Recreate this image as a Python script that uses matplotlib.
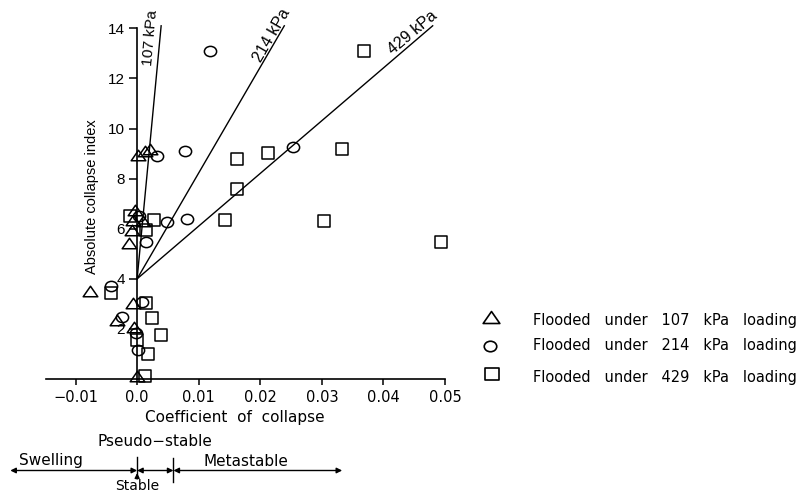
import matplotlib
matplotlib.use("Agg")
import matplotlib.pyplot as plt
from matplotlib.path import Path
from matplotlib.transforms import Affine2D, blended_transform_factory
from matplotlib.lines import Line2D

# Coefficient of collapse (x) and absolute collapse index (y) per flooding load
tri_x = [0.0002, 0.0013, 0.0021, -0.0004, -0.0007, 0.0010, -0.0009, -0.0013,
         -0.0076, -0.0006, -0.0033, -0.0005, 0.0000]
tri_y = [8.95, 9.10, 9.20, 6.75, 6.35, 6.30, 5.95, 5.42,
         3.50, 3.05, 2.35, 2.08, 0.12]

circ_x = [0.0119, 0.0078, 0.0253, 0.0032, 0.0081, 0.0048, 0.0015, 0.0003,
          -0.0042, 0.0008, -0.0025, -0.0002, 0.0002]
circ_y = [13.10, 9.12, 9.27, 8.92, 6.40, 6.27, 5.47, 6.50,
          3.70, 3.09, 2.47, 1.85, 1.16]

sq_x = [0.0368, 0.0332, 0.0213, 0.0163, 0.0163, 0.0143, 0.0304, 0.0494,
        0.0028, -0.0011, 0.0014, -0.0042, 0.0014, 0.0024, 0.0039, 0.0000,
        0.0017, 0.0013]
sq_y = [13.10, 9.20, 9.03, 8.80, 7.60, 6.33, 6.29, 5.45,
        6.35, 6.50, 5.95, 3.45, 3.02, 2.45, 1.76, 1.56,
        1.00, 0.12]

# Trend lines from the common origin (0, 4) for each load
loads = ["107 kPa", "214 kPa", "429 kPa"]
fit_origin = (0.0, 4.0)
fit_x_end = [0.0039, 0.0239, 0.0480]
fit_y_end = 14.1

legend_labels = ["Flooded   under   107   kPa   loading",
                 "Flooded   under   214   kPa   loading",
                 "Flooded   under   429   kPa   loading"]

x_ticks = [-0.01, 0.0, 0.01, 0.02, 0.03, 0.04, 0.05]
x_tick_labels = ["\u22120.01", "0.0", "0.01", "0.02", "0.03", "0.04", "0.05"]
y_ticks = [2, 4, 6, 8, 10, 12, 14]

# Stability zones along the coefficient-of-collapse scale
zone_edges = [-0.0206, 0.0, 0.0059, 0.0333]
zone_names = ["Swelling", "Pseudo\u2212stable", "Metastable"]

SANS = ["Liberation Sans", "DejaVu Sans"]
TICKF = ["DejaVu Sans"]

fig = plt.figure(figsize=(8, 4.93), dpi=100)
ax = fig.add_axes([0.0575, 0.2312, 0.49875, 0.7114])
ax.set_xlim(-0.0148, 0.05)
ax.set_ylim(0, 14)

for s in ("top", "right"):
    ax.spines[s].set_visible(False)
ax.spines["left"].set_position(("data", 0))
ax.spines["left"].set_linewidth(1.2)
ax.spines["bottom"].set_linewidth(1.2)
ax.spines["bottom"].set_bounds(-0.0148, 0.05)

ax.set_xticks(x_ticks)
ax.set_xticklabels(x_tick_labels, family=TICKF, fontsize=10.5)
ax.set_yticks(y_ticks)
ax.set_yticklabels([str(v) for v in y_ticks], family=SANS, fontsize=11)
ax.tick_params(axis="x", direction="out", length=4, width=1.1, pad=4)
ax.tick_params(axis="y", direction="out", length=6, width=1.1, pad=3)

ax.set_xlabel("Coefficient  of  collapse", family=TICKF, fontsize=11)
ax.xaxis.set_label_coords(0.474, -0.087)
ax.set_ylabel("Absolute collapse index", family=SANS, fontsize=10.5)
ax.yaxis.set_label_coords(0.132, 0.52)

# Trend lines and their labels
label_pos = [(0.0021, 13.62, 85), (0.0218, 13.72, 60), (0.0447, 13.82, 40)]
label_size = [11, 11.5, 11.5]
for xe, lab, (lx, ly, rot), fs in zip(fit_x_end, loads, label_pos, label_size):
    ax.plot([fit_origin[0], xe], [fit_origin[1], fit_y_end], color="black",
            lw=1.0, clip_on=False, zorder=2)
    ax.text(lx, ly, lab, rotation=rot, rotation_mode="anchor",
            ha="center", va="center", family=SANS, fontsize=fs)

# Custom marker shapes (flattened triangle and ellipse)
tri_marker = Path([(-1, -0.72), (1, -0.72), (0, 0.72), (-1, -0.72)],
                  [Path.MOVETO, Path.LINETO, Path.LINETO, Path.CLOSEPOLY])
ell_marker = Affine2D().scale(1.0, 0.84).transform_path(Path.unit_circle())
sq_marker = Path([(-1, -0.88), (1, -0.88), (1, 0.88), (-1, 0.88), (-1, -0.88)],
                 [Path.MOVETO, Path.LINETO, Path.LINETO, Path.LINETO, Path.CLOSEPOLY])

styles = [
    (tri_x, tri_y, tri_marker, 10.5),
    (circ_x, circ_y, ell_marker, 8.8),
    (sq_x, sq_y, sq_marker, 9.2),
]
for xs, ys, mk, ms in styles:
    ax.plot(xs, ys, linestyle="none", marker=mk, markersize=ms,
            markerfacecolor="none", markeredgecolor="black",
            markeredgewidth=1.1, clip_on=False, zorder=3)

# Legend drawn as marker + text rows
leg_marker_xy = [(0.614, 0.357), (0.613, 0.298), (0.615, 0.241)]
leg_text_y = [0.349, 0.300, 0.234]
leg_sizes = [12, 9.0, 9.5]
for (mx, my), ty, lab, (_, _, mk, _), ms in zip(leg_marker_xy, leg_text_y,
                                                legend_labels, styles, leg_sizes):
    fig.add_artist(Line2D([mx], [my], transform=fig.transFigure,
                          linestyle="none", marker=mk, markersize=ms,
                          markerfacecolor="none", markeredgecolor="black",
                          markeredgewidth=1.2))
    fig.text(0.666, ty, lab, family=TICKF, fontsize=10.5, va="center",
             ha="left")

# Stability zone scale below the axis
bt = blended_transform_factory(ax.transData, fig.transFigure)
y_line = 1 - 470.5 / 493
arrow_kw = dict(arrowstyle="<|-|>", color="black", lw=1.0,
                mutation_scale=8, shrinkA=0, shrinkB=0)
for a, b in zip(zone_edges[:-1], zone_edges[1:]):
    ax.annotate("", xy=(a, y_line), xytext=(b, y_line), xycoords=bt,
                textcoords=bt, arrowprops=arrow_kw, annotation_clip=False)
for xe, (y0, y1) in zip(zone_edges[1:3], [(457, 477), (458, 482)]):
    ax.add_line(Line2D([xe, xe], [1 - y0 / 493, 1 - y1 / 493],
                       transform=bt, color="black", lw=1.0, clip_on=False))

ax.text(-0.0140, 1 - 461 / 493, zone_names[0], transform=bt, ha="center",
        va="center", family=TICKF, fontsize=11)
ax.text(0.0029, 1 - 442 / 493, zone_names[1], transform=bt, ha="center",
        va="center", family=TICKF, fontsize=11)
ax.text(0.0176, 1 - 461 / 493, zone_names[2], transform=bt, ha="center",
        va="center", family=TICKF, fontsize=11)
ax.text(0.0, 1 - 485.5 / 493, "Stable", transform=bt, ha="center",
        va="center", family=TICKF, fontsize=10)
ax.annotate("", xy=(0.0, 1 - 473 / 493), xytext=(0.0, 1 - 479 / 493),
            xycoords=bt, textcoords=bt, annotation_clip=False,
            arrowprops=dict(arrowstyle="-|>", color="black", lw=1.0,
                            mutation_scale=7, shrinkA=0, shrinkB=0))

fig.savefig("out.png", dpi=100)
